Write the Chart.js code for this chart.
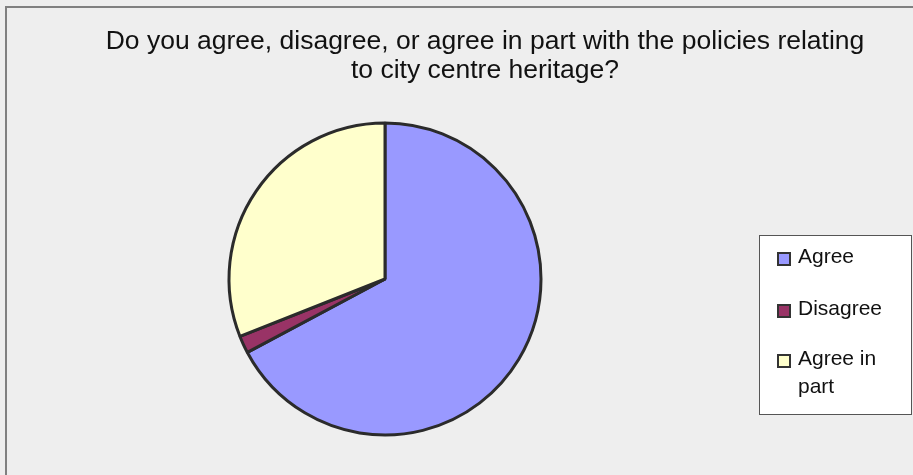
<!DOCTYPE html>
<html>
<head>
<meta charset="utf-8">
<script src="https://cdn.jsdelivr.net/npm/chart.js@4.4.1/dist/chart.umd.min.js"></script>
<style>
  html, body { margin: 0; padding: 0; background: #eeeeee; }
  #wrap { width: 913px; height: 475px; }
</style>
</head>
<body>
<div id="wrap"><canvas id="heritage-chart" width="913" height="475"></canvas></div>
<script>
const titleLines = ["Do you agree, disagree, or agree in part with the policies relating", "to city centre heritage?"];
const categories = ["Agree", "Disagree", "Agree in part"];
const legendLabels = [["Agree"], ["Disagree"], ["Agree in", "part"]];
const responseShares = [67.2, 1.8, 31.0];
const sliceColors = ["#9999ff", "#993366", "#ffffcc"];

const FONT = "'Liberation Sans', Arial, sans-serif";

// fond gris + cadre extérieur
const backgroundPlugin = {
  id: "backgroundPlugin",
  beforeDraw(chart) {
    const ctx = chart.ctx;
    ctx.save();
    ctx.fillStyle = "#eeeeee";
    ctx.fillRect(0, 0, chart.width, chart.height);
    ctx.strokeStyle = "#808080";
    ctx.lineWidth = 2;
    ctx.strokeRect(6, 7, chart.width + 20, chart.height + 20);
    ctx.restore();
  },
};

// titre sur deux lignes
const titlePlugin = {
  id: "titlePlugin",
  afterDraw(chart) {
    const ctx = chart.ctx;
    ctx.save();
    ctx.fillStyle = "#111111";
    ctx.font = "26.5px " + FONT;
    ctx.textAlign = "center";
    ctx.textBaseline = "alphabetic";
    titleLines.forEach((line, i) => {
      ctx.fillText(line, 485, 49 + i * 29);
    });
    ctx.restore();
  },
};

// légende encadrée à droite
const boxLegendPlugin = {
  id: "boxLegendPlugin",
  afterDraw(chart) {
    const ctx = chart.ctx;
    const ds = chart.data.datasets[0];
    ctx.save();
    ctx.fillStyle = "#ffffff";
    ctx.fillRect(759, 235, 152, 179);
    ctx.strokeStyle = "#555555";
    ctx.lineWidth = 1;
    ctx.strokeRect(759.5, 235.5, 152, 179);

    ctx.font = "21px " + FONT;
    ctx.textAlign = "left";
    ctx.textBaseline = "alphabetic";
    const baselines = [263, 315, 365];
    legendLabels.forEach((lines, i) => {
      const y = baselines[i];
      ctx.fillStyle = ds.backgroundColor[i];
      ctx.fillRect(778, y - 10, 12, 12);
      ctx.strokeStyle = "#333333";
      ctx.lineWidth = 2;
      ctx.strokeRect(778, y - 10, 12, 12);
      ctx.fillStyle = "#111111";
      lines.forEach((txt, j) => {
        ctx.fillText(txt, 798, y + j * 28);
      });
    });
    ctx.restore();
  },
};

const ctx = document.getElementById("heritage-chart").getContext("2d");
new Chart(ctx, {
  type: "pie",
  data: {
    labels: categories,
    datasets: [
      {
        data: responseShares,
        backgroundColor: sliceColors,
        borderColor: "#2b2b2b",
        borderWidth: 3,
      },
    ],
  },
  options: {
    responsive: false,
    animation: false,
    radius: 156,
    layout: { padding: { left: 70, right: 213, top: 100, bottom: 17 } },
    plugins: {
      legend: { display: false },
      title: { display: false },
      tooltip: { enabled: false },
    },
  },
  plugins: [backgroundPlugin, titlePlugin, boxLegendPlugin],
});
</script>
</body>
</html>
